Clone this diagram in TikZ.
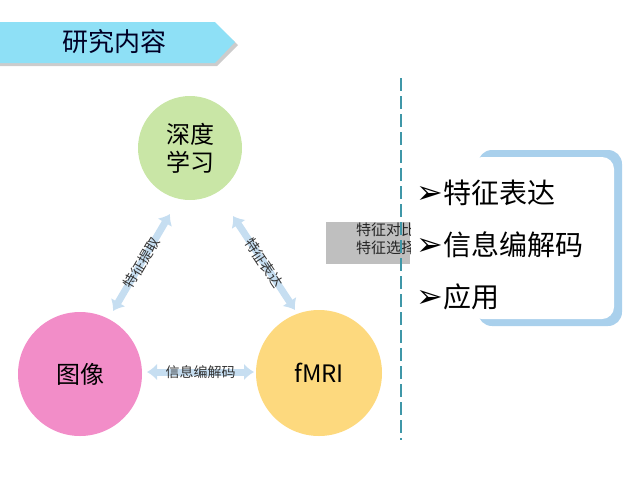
\documentclass[tikz,border=0pt]{standalone}
\usepackage{fontspec}
\setmainfont{Noto Sans CJK SC}
\newfontfamily\symfont{DejaVu Sans}
\usetikzlibrary{arrows.meta}
\definecolor{bannerblue}{HTML}{8EE0F6}
\definecolor{deepgreen}{HTML}{C9E6A6}
\definecolor{imgpink}{HTML}{F28DC8}
\definecolor{fmriyellow}{HTML}{FDD97E}
\definecolor{arrowblue}{HTML}{C6DEF1}
\definecolor{boxblue}{HTML}{A9D0EC}
\definecolor{dashteal}{HTML}{3F97A8}

\begin{document}
\begin{tikzpicture}[x=1pt,y=-1pt,
	topic/.style={circle,inner sep=0pt,align=center,font=\fontsize{24}{28}\selectfont},
	link/.style={arrowblue,line width=7pt,{Latex[length=10pt,width=17pt]}-{Latex[length=10pt,width=17pt]}},
	linklabel/.style={font=\fontsize{14}{16}\selectfont,text=black!80,inner sep=0pt},
	item/.style={anchor=west,font=\fontsize{28}{32}\selectfont}]
	\useasboundingbox (0,0) rectangle (640,480);
	
	% banner
	\fill[black!20] (0,25) -- (217,25) -- (238,45) -- (217,66) -- (0,66) -- cycle;
	\fill[bannerblue] (0,22) -- (215,22) -- (235,42) -- (215,63) -- (0,63) -- cycle;
	\node[text=black!85!blue,font=\fontsize{26}{30}\selectfont] (title) at (114,42) {研究内容};
	
	% three circles
	\node[topic,fill=deepgreen,minimum size=104pt] (deep) at (190,148) {深度\\学习};
	\node[topic,fill=imgpink,minimum size=124pt] (img) at (80,374) {图像};
	\node[topic,fill=fmriyellow,minimum size=126pt] (fmri) at (319,373) {fMRI};
	
	% arrows between circles
	\coordinate (L1) at (170,214);
	\coordinate (L2) at (113,311);
	\coordinate (R1) at (233,216);
	\coordinate (R2) at (295,310);
	\coordinate (B1) at (147,372);
	\coordinate (B2) at (254,372);
	\draw[link] (L1) -- node[linklabel,sloped] (lab1) {特征提取} (L2);
	\draw[link] (R1) -- node[linklabel,sloped] (lab2) {特征表达} (R2);
	\draw[link] (B1) -- node[linklabel] (lab3) {信息编解码} (B2);
	
	% grey box, cut at its right edge
	\fill[black!25] (326,222) rectangle (410,264);
	\begin{scope}
		\clip (326,222) rectangle (410,264);
		\node[linklabel,font=\fontsize{15}{18}\selectfont,anchor=north west,align=left,text=black!85] (cut) at (356,223) {特征对比\\特征选择};
	\end{scope}
	
	% dashed divider
	\coordinate (D1) at (401,78);
	\coordinate (D2) at (401,440);
	\draw[dashteal,line width=1.8pt,dash pattern=on 13pt off 5pt] (D1) -- (D2);
	
	% right box
	\fill[boxblue,rounded corners=14pt] (478,150) rectangle (622,326);
	\fill[white,rounded corners=12pt] (470,157) rectangle (614,319);
	
	% list
	\node[item] (i1) at (413,193) {{\symfont\fontsize{32}{32}\selectfont ➢}特征表达};
	\node[item] (i2) at (413,245) {{\symfont\fontsize{32}{32}\selectfont ➢}信息编解码};
	\node[item] (i3) at (413,297) {{\symfont\fontsize{32}{32}\selectfont ➢}应用};
\end{tikzpicture}
\end{document}
